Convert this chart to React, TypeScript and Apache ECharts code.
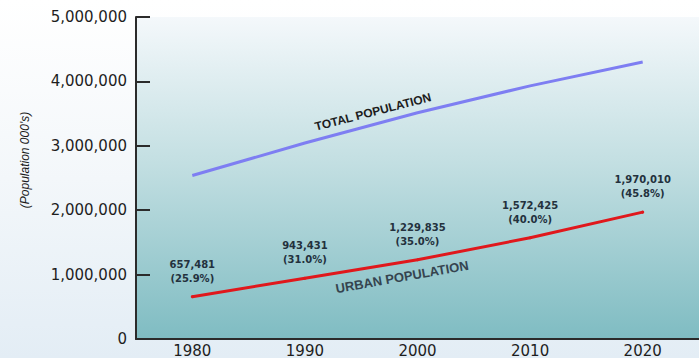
import React, { useEffect, useRef } from "react";
import * as echarts from "echarts";

const years = ["1980", "1990", "2000", "2010", "2020"];
const totalPopulation = [2538000, 3043000, 3514000, 3931000, 4301000];
const urbanPopulation = [657481, 943431, 1229835, 1572425, 1970010];
const urbanShare = ["25.9%", "31.0%", "35.0%", "40.0%", "45.8%"];
const yTicks = { min: 0, max: 5000000, interval: 1000000 };

const fmt = (v: number) => v.toLocaleString("en-US");

export default function App() {
  const ref = useRef<HTMLDivElement>(null);
  useEffect(() => {
    if (!ref.current) return;
    const chart = echarts.init(ref.current, undefined, { renderer: "svg" });
    chart.setOption({
      animation: false,
      grid: {
        left: 136,
        right: -7,
        top: 17,
        bottom: 17,
        show: true,
        borderWidth: 0,
        backgroundColor: {
          type: "linear",
          x: 0,
          y: 0,
          x2: 0,
          y2: 1,
          colorStops: [
            { offset: 0, color: "#f4f8fb" },
            { offset: 0.45, color: "#c3dfe2" },
            { offset: 1, color: "#7fbcc2" },
          ],
        },
      },
      xAxis: {
        type: "category",
        data: years,
        boundaryGap: true,
        axisLine: { lineStyle: { color: "#2b2b2b", width: 2 } },
        axisTick: { inside: true, length: 7, lineStyle: { color: "#2b2b2b", width: 2 } },
        axisLabel: {
          color: "#1e1e1e",
          fontFamily: "DejaVu Sans",
          fontSize: 15,
          margin: 4,
        },
        splitLine: { show: false },
      },
      yAxis: {
        type: "value",
        min: yTicks.min,
        max: yTicks.max,
        interval: yTicks.interval,
        axisLine: { show: true, lineStyle: { color: "#2b2b2b", width: 2 } },
        axisTick: { show: true, inside: true, length: 14, lineStyle: { color: "#2b2b2b", width: 2 } },
        axisLabel: {
          color: "#1e1e1e",
          fontFamily: "DejaVu Sans",
          fontSize: 15,
          margin: 9,
          formatter: (v: number) => fmt(v),
        },
        splitLine: { show: false },
      },
      series: [
        {
          name: "Total population",
          type: "line",
          data: totalPopulation,
          symbol: "none",
          lineStyle: { color: "#7e7ef2", width: 3 },
          z: 3,
        },
        {
          name: "Urban population",
          type: "line",
          data: urbanPopulation,
          symbol: "circle",
          symbolSize: 3,
          showSymbol: true,
          itemStyle: { color: "#e0181c", borderWidth: 0 },
          lineStyle: { color: "#e0181c", width: 3 },
          label: {
            show: true,
            position: "top",
            distance: 10,
            color: "#23313d",
            fontFamily: "DejaVu Sans",
            fontWeight: "bold",
            fontSize: 10,
            lineHeight: 14,
            align: "center",
            formatter: (p: any) => `${fmt(p.value)}\n(${urbanShare[p.dataIndex]})`,
          },
          z: 4,
        },
      ],
      graphic: [
        {
          type: "text",
          x: 25,
          y: 160,
          rotation: Math.PI / 2,
          style: {
            text: "(Population 000's)",
            fill: "#1a1a1a",
            font: "italic 12px 'Liberation Sans'",
            align: "center",
            verticalAlign: "middle",
          },
        },
        {
          type: "text",
          x: 373,
          y: 112,
          rotation: (14.5 * Math.PI) / 180,
          style: {
            text: "TOTAL POPULATION",
            fill: "#1c1c1c",
            font: "bold 12px 'Liberation Sans'",
            align: "center",
            verticalAlign: "middle",
          },
        },
        {
          type: "text",
          x: 402,
          y: 277,
          rotation: (10 * Math.PI) / 180,
          style: {
            text: "URBAN POPULATION",
            fill: "#35444f",
            font: "bold 13px 'Liberation Sans'",
            align: "center",
            verticalAlign: "middle",
          },
        },
      ],
    });
    return () => chart.dispose();
  }, []);
  return (
    <div
      style={{
        position: "absolute",
        left: 0,
        top: 0,
        width: 699,
        height: 358,
        overflow: "hidden",
        background: "linear-gradient(180deg, #ffffff 0%, #f3f7fa 50%, #e3edf5 100%)",
      }}
    >
      <div ref={ref} style={{ width: 699, height: 358 }} />
    </div>
  );
}
